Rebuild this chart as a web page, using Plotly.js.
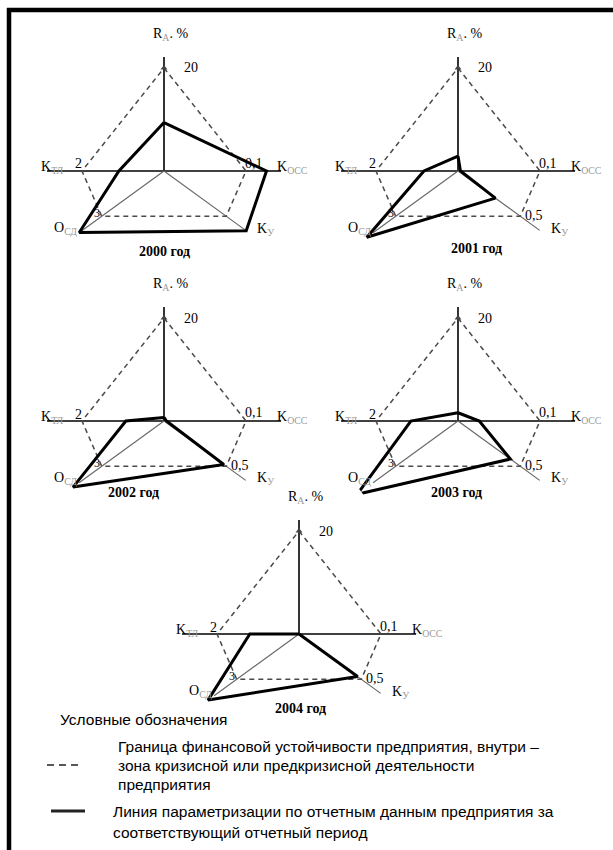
<!DOCTYPE html>
<html>
<head>
<meta charset="utf-8">
<script src="https://cdn.plot.ly/plotly-3.0.1.min.js"></script>
<style>
  html, body { margin: 0; padding: 0; background: #fff; }
  #chart { width: 613px; height: 850px; }
</style>
</head>
<body>
<div id="chart"></div>
<script>
// оси лепестковой диаграммы: R_А, K_осс, K_у, O_сд, K_тл
const axisKeys = ['R', 'Kocc', 'Ky', 'Ocd', 'Ktl'];
const thresholds = [20, 0.1, 0.5, 3, 2];
const thresholdLabels = ['20', '0,1', '0,5', '3', '2'];

// значения показателей по годам
const years = ['2000 год', '2001 год', '2002 год', '2003 год', '2004 год'];
const v2000 = [9.4, 0.125, 0.66, 4.08, 1.10];
const v2001 = [2.9, 0.003, 0.30, 4.39, 0.83];
const v2002 = [0.7, 0.003, 0.48, 4.38, 0.93];
const v2003 = [1.6, 0.026, 0.42, 4.85, 1.15];
const v2004 = [0.0, 0.000, 0.47, 4.38, 1.20];
const yearValues = [v2000, v2001, v2002, v2003, v2004];

const legendTitle = 'Условные обозначения';
const legendDashed = ['Граница финансовой устойчивости предприятия, внутри –',
                      'зона кризисной или предкризисной деятельности',
                      'предприятия'];
const legendSolid = ['Линия параметризации по отчетным данным предприятия за',
                     'соответствующий отчетный период'];

// геометрия
const W = 613, H = 850, S = 120;
const axisAngles = [90, 0, -36, -144, 180];
const thresholdRadius = [103, 82, 77, 77, 82];
const scale = thresholdRadius.map((r, k) => r / thresholds[k]);
const centers = [[164, 171], [458, 171], [164, 421], [458, 421], [299, 634]];
const titleOffset = [[0, 80], [18, 77], [-31, 71], [-2, 72], [1, 74]];

const px = x => x / W;
const py = y => 1 - y / H;
const serif = 'Liberation Serif, Times New Roman, serif';
const sans = 'Liberation Sans, Arial, sans-serif';

const traces = [];
const annotations = [];
const layout = {
    width: W, height: H,
    margin: { t: 0, b: 0, l: 0, r: 0 },
    paper_bgcolor: '#fff',
    showlegend: false,
    dragmode: false,
    shapes: [],
    annotations: annotations
};

function label(x, y, text, opts) {
    annotations.push(Object.assign({
        x: px(x), y: py(y), xref: 'paper', yref: 'paper',
        text: text, showarrow: false, xanchor: 'center', yanchor: 'middle',
        font: { family: serif, size: 14, color: '#000' }
    }, opts || {}));
}

const sub = t => `<sub><span style="color:#999">${t}</span></sub>`;

yearValues.forEach((vals, i) => {
    const id = i === 0 ? 'polar' : 'polar' + (i + 1);
    const [cx, cy] = centers[i];
    layout[id] = {
        domain: { x: [px(cx - S), px(cx + S)], y: [py(cy + S), py(cy - S)] },
        bgcolor: 'rgba(0,0,0,0)',
        radialaxis: { visible: false, range: [0, S] },
        angularaxis: { visible: false, direction: 'counterclockwise', rotation: 0 }
    };

    // оси
    traces.push({
        type: 'scatterpolar', subplot: id, mode: 'lines', hoverinfo: 'skip',
        r: [0, 114], theta: [90, 90],
        line: { color: '#000', width: 1.6 }
    });
    traces.push({
        type: 'scatterpolar', subplot: id, mode: 'lines', hoverinfo: 'skip',
        r: [117, 0, 117], theta: [180, 180, 0],
        line: { color: '#000', width: 1.5 }
    });
    traces.push({
        type: 'scatterpolar', subplot: id, mode: 'lines', hoverinfo: 'skip',
        r: [101, 0, 105], theta: [axisAngles[2], axisAngles[2], axisAngles[3]],
        line: { color: '#6a6a6a', width: 1.2 }
    });

    // граница устойчивости
    const tr = thresholds.map((t, k) => t * scale[k]);
    traces.push({
        type: 'scatterpolar', subplot: id, mode: 'lines', hoverinfo: 'skip',
        r: tr.concat([tr[0]]), theta: axisAngles.concat([axisAngles[0]]),
        line: { color: '#4a4a4a', width: 1.5, dash: '5px,4px' }
    });
    traces.push({
        type: 'scatterpolar', subplot: id, mode: 'markers', hoverinfo: 'skip',
        r: [tr[0]], theta: [axisAngles[0]],
        marker: { symbol: 'triangle-up', size: 6, color: '#444' }
    });

    // линия параметризации
    const r = vals.map((v, k) => v * scale[k]);
    traces.push({
        type: 'scatterpolar', subplot: id, mode: 'lines', hoverinfo: 'skip',
        r: r.concat([r[0]]), theta: axisAngles.concat([axisAngles[0]]),
        line: { color: '#000', width: 3 }
    });

    // подписи
    label(cx + 6, cy - 137, 'R' + sub('А') + '. %');
    label(cx + 27, cy - 103, thresholdLabels[0]);
    label(cx - 112, cy - 4, 'K' + sub('ТЛ'));
    label(cx - 86, cy - 7, thresholdLabels[4]);
    label(cx + 90, cy - 8, thresholdLabels[1]);
    label(cx + 128, cy - 4, 'K' + sub('ОСС'));
    label(cx + 101, cy + 58, 'K' + sub('У'));
    label(cx - 99, cy + 57, 'O' + sub('СД'));
    label(cx - 67, cy + 42, thresholdLabels[3], { font: { family: serif, size: 12, color: '#000' } });
    if (i > 0) label(cx + 76, cy + 44, thresholdLabels[2]);
    label(cx + titleOffset[i][0], cy + titleOffset[i][1], '<b>' + years[i] + '</b>',
          { font: { family: serif, size: 14, color: '#000' } });
});

// легенда
const legendFont = { family: sans, size: 15.5, color: '#000' };
label(58, 719, legendTitle, { xanchor: 'left', font: legendFont });
legendDashed.forEach((t, j) => label(116, 746 + j * 19, t, { xanchor: 'left', font: legendFont }));
legendSolid.forEach((t, j) => label(111, 811 + j * 21, t, { xanchor: 'left', font: legendFont }));

layout.shapes.push(
    { type: 'line', xref: 'paper', yref: 'paper', x0: px(47), x1: px(81), y0: py(765), y1: py(765),
      line: { color: '#222', width: 1.4, dash: '7px,5px' } },
    { type: 'line', xref: 'paper', yref: 'paper', x0: px(51), x1: px(85), y0: py(811), y1: py(811),
      line: { color: '#222', width: 3 } },
    // рамка страницы
    { type: 'line', xref: 'paper', yref: 'paper', x0: px(7), x1: px(613), y0: py(10), y1: py(10),
      line: { color: '#000', width: 4.5 } },
    { type: 'line', xref: 'paper', yref: 'paper', x0: px(9), x1: px(9), y0: py(8), y1: py(850),
      line: { color: '#000', width: 4.5 } }
);

Plotly.newPlot('chart', traces, layout, { staticPlot: true, displayModeBar: false });
</script>
</body>
</html>
